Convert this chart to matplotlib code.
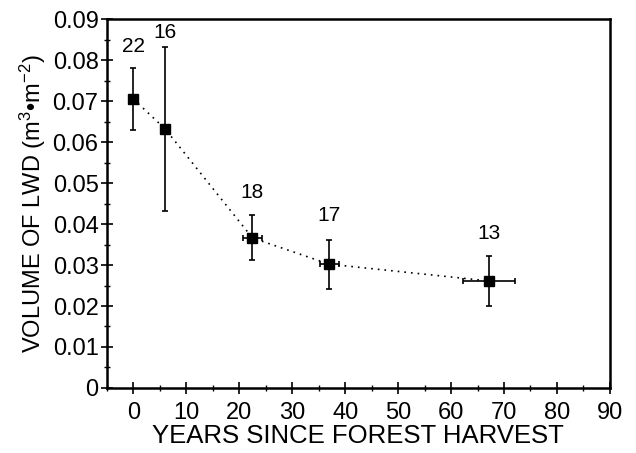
import numpy as np
import matplotlib.pyplot as plt
from matplotlib.ticker import MultipleLocator

plt.rcParams['font.family'] = ['Liberation Sans', 'DejaVu Sans']
plt.rcParams['mathtext.fontset'] = 'custom'
plt.rcParams['mathtext.rm'] = 'Liberation Sans'
plt.rcParams['mathtext.it'] = 'Liberation Sans'

# data
years = [0, 6, 22.5, 37, 67.2]
years_err = [0, 0, 1.8, 1.8, 4.9]
volume = [0.0705, 0.0632, 0.0366, 0.0302, 0.0261]
volume_err = [0.0075, 0.020, 0.0055, 0.006, 0.006]
n_sites = ['22', '16', '18', '17', '13']
label_y = [0.0832, 0.0866, 0.0476, 0.0420, 0.0376]

xticks = [0, 10, 20, 30, 40, 50, 60, 70, 80, 90]
yticks = [0, 0.01, 0.02, 0.03, 0.04, 0.05, 0.06, 0.07, 0.08, 0.09]
ytick_labels = ['0', '0.01', '0.02', '0.03', '0.04', '0.05', '0.06', '0.07', '0.08', '0.09']

fig = plt.figure(figsize=(6.36, 4.53), dpi=100)
ax = fig.add_axes([0.168, 0.1435, 0.791, 0.8145])

ax.plot(years, volume, linestyle=(0, (1, 3)), color='black', lw=1.2)
ax.errorbar(years, volume, xerr=years_err, yerr=volume_err, fmt='s', color='black',
            ms=7, ecolor='black', elinewidth=1.2, capsize=2.5, capthick=1.2)

for xx, yy, t in zip(years, label_y, n_sites):
    ax.text(xx, yy, t, ha='center', va='center', fontsize=15)

ax.set_xlim(-5, 90)
ax.set_ylim(0, 0.09)
ax.set_xticks(xticks)
ax.set_yticks(yticks)
ax.set_yticklabels(ytick_labels)
ax.xaxis.set_minor_locator(MultipleLocator(5))
ax.yaxis.set_minor_locator(MultipleLocator(0.005))
ax.tick_params(which='major', direction='inout', length=8, width=1.2, labelsize=17, pad=2)
ax.tick_params(axis='x', which='major', pad=6)
ax.tick_params(which='minor', direction='inout', length=4, width=1.0)
ax.tick_params(top=False, right=False, which='both')

for s in ax.spines.values():
    s.set_linewidth(1.8)

ax.set_xlabel('YEARS SINCE FOREST HARVEST', fontsize=18.5, labelpad=0)
ax.set_ylabel(r'VOLUME OF LWD (m$^3$•m$^{-2}$)', fontsize=17, labelpad=3)

fig.savefig('out.png', dpi=100)
